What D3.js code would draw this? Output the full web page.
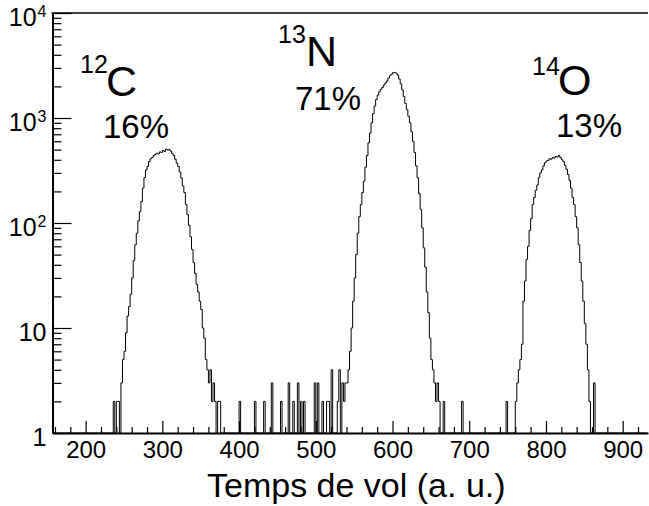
<!DOCTYPE html>
<html><head><meta charset="utf-8">
<script src="https://cdn.jsdelivr.net/npm/d3@7"></script>
<style>
body{margin:0;background:#fff}
svg{display:block}
text{font-family:"Liberation Sans",Arial,Helvetica,sans-serif;fill:#000}
</style>
</head><body>
<svg id="chart" width="649" height="506"></svg>
<script>
// ---------------- data ----------------
const binWidth = 2;
// 12C peak
const cStart = 246;
const cCounts = [3,5,6,9,13,16,21,30,44,62, 80,105,128,160,215,270,320,345,385,410,
  420,440,450,462,455,475,470,490,480,505, 495,500,485,460,440,405,372,345,305,268,
  225,195,150,120,95,74,56,42,33,26, 22,18,15,10,8,5,4,3,4,2, 3,2,0,2];
// 13N peak
const nStart = 540;
const nCounts = [3,4,6,10,18,30,50,80,115,150, 195,250,340,440,580,720,900,1100,1300,1500,
  1650,1780,1880,1950,2060,2150,2250,2400,2540,2620, 2700,2720,2680,2560,2350,2120,1850,1600,1380,1200,
  1040,900,740,600,470,350,270,190,135,90, 58,38,22,14,8,5,4,3,2,3, 2];
// 14O peak
const oStart = 760;
const oCounts = [2,3,4,5,7,18,28,45,60,85, 110,150,175,205,230,270,300,320,350,375,
  390,395,410,405,420,415,430,425,440,420, 400,385,355,325,290,255,215,175,150,115,
  90,62,42,28,18,11,7,4,2];
// isolated background bins
const noiseBins   = [236,240,242,374,400,420,432,442,454,464,470,476,480,484,498,502,508,514,516,520,528,530,534,536,538,666,690,748,862];
const noiseCounts = [2,2,2,2,2,2,2,3,2,3,2,3,2,2,3,3,2,2,2,4,2,4,3,2,3,2,2,2,3];

const histLow = 158, histHigh = 932;
const xMajorTicks = [200,300,400,500,600,700,800,900];
const xMinorTicks = d3.range(160, 932, 20).filter(v => v % 100 !== 0);
const yMajorTicks = [1,10,100,1000,10000];
const yTickBase = ["1","10","10","10","10"];
const yTickExp  = ["","","2","3","4"];
const yMinorTicks = [1,10,100,1000].flatMap(d => d3.range(2,10).map(k => k*d));

const labelIso  = ["12","13","14"];
const labelElem = ["C","N","O"];
const labelPct  = ["16%","71%","13%"];

// ---------------- layout ----------------
const L = 52.5, R = 648, T = 13, B = 433;
const svg = d3.select("#chart");
const x = d3.scaleLinear().domain([156.8, 933]).range([L, R]);
const y = d3.scaleLog().domain([1, 10000]).range([B, T]);

// build histogram
const counts = new Map();
cCounts.forEach((c,i)=>counts.set(cStart+i*binWidth,c));
nCounts.forEach((c,i)=>counts.set(nStart+i*binWidth,c));
oCounts.forEach((c,i)=>counts.set(oStart+i*binWidth,c));
noiseBins.forEach((b,i)=>counts.set(b,noiseCounts[i]));
const bins = d3.range(histLow, histHigh, binWidth).map(lo => ({lo, c: counts.get(lo) || 0}));
const yv = c => c >= 1 ? y(c) : y(1);

let p = `M${x(bins[0].lo)},${yv(bins[0].c)}H${x(bins[0].lo+binWidth)}`;
for (let i = 1; i < bins.length; i++) {
  p += `V${yv(bins[i].c)}H${x(bins[i].lo+binWidth)}`;
}
svg.append("path").attr("d", p).attr("fill","none").attr("stroke","#000").attr("stroke-width",1);

// x axis
const gx = svg.append("g").attr("transform",`translate(0,${B})`)
  .call(d3.axisBottom(x).tickValues(xMajorTicks).tickSize(-12).tickSizeOuter(0).tickPadding(8).tickFormat(d3.format("d")));
gx.select(".domain").attr("stroke-width",2);
gx.selectAll(".tick line").attr("stroke-width",1.2);
gx.selectAll("text").attr("font-size",24).attr("font-family","Liberation Sans, Arial, sans-serif");
const gxm = svg.append("g").attr("transform",`translate(0,${B})`)
  .call(d3.axisBottom(x).tickValues(xMinorTicks).tickSize(-6).tickFormat(""));
gxm.select(".domain").remove();
gxm.selectAll(".tick line").attr("stroke-width",1.2);

// y axis
const gy = svg.append("g").attr("transform",`translate(${L},0)`)
  .call(d3.axisLeft(y).tickValues(yMajorTicks).tickSize(-19).tickSizeOuter(0).tickPadding(6).tickFormat(""));
gy.select(".domain").attr("stroke-width",2);
gy.selectAll(".tick line").attr("stroke-width",1.2);
gy.selectAll(".tick text").each(function(d,i){
  const t = d3.select(this).attr("font-size",25).attr("dy",null).attr("y",12)
    .attr("font-family","Liberation Sans, Arial, sans-serif");
  t.append("tspan").text(yTickBase[i]);
  if (yTickExp[i]) t.append("tspan").attr("font-size",16).attr("dx",1).attr("dy",-9).text(yTickExp[i]);
});
const gym = svg.append("g").attr("transform",`translate(${L},0)`)
  .call(d3.axisLeft(y).tickValues(yMinorTicks).tickSize(-9).tickFormat(""));
gym.select(".domain").remove();
gym.selectAll(".tick line").attr("stroke-width",1.2);

// top frame
svg.append("line").attr("x1",L-1).attr("x2",R).attr("y1",T).attr("y2",T)
  .attr("stroke","#000").attr("stroke-width",1.5);

// annotations
const isoX  = [80, 278, 532], isoY  = [73, 43, 75];
const elemX = [106, 306, 558], elemY = [96, 66, 95];
const pctX  = [103, 295, 556], pctY  = [138, 110, 137];
labelIso.forEach((s,i)=>{
  svg.append("text").attr("x",isoX[i]).attr("y",isoY[i]).attr("font-size",25).text(s);
  svg.append("text").attr("x",elemX[i]).attr("y",elemY[i]).attr("font-size",43).text(labelElem[i]);
  svg.append("text").attr("x",pctX[i]).attr("y",pctY[i]).attr("font-size",33).text(labelPct[i]);
});

// x title
svg.append("text").attr("x",207).attr("y",497).attr("font-size",34).text("Temps de vol (a. u.)");
</script>
</body></html>
